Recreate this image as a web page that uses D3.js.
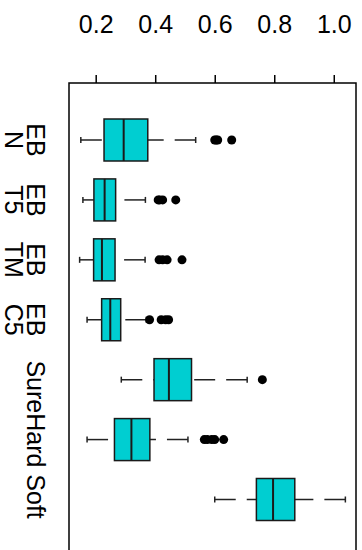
<!DOCTYPE html>
<html>
<head>
<meta charset="utf-8">
<script src="https://cdn.jsdelivr.net/npm/d3@7"></script>
<style>
  html, body { margin: 0; padding: 0; background: #fff; }
  svg { display: block; }
  text { font-family: "Liberation Sans", Arial, sans-serif; fill: #000; }
</style>
</head>
<body>
<svg id="chart" width="362" height="550"></svg>
<script>
// Group labels (only some are printed on the axis; the rest are blank)
const labels = ["EB\nN", "EB\nT5", "EB\nTM", "EB\nC5", "", "SureHard Soft", ""];

// Five-number summaries per group
const whiskerLow  = [0.150, 0.157, 0.146, 0.171, 0.286, 0.171, 0.600];
const lowerQuart  = [0.228, 0.194, 0.193, 0.220, 0.396, 0.263, 0.740];
const medians     = [0.294, 0.230, 0.221, 0.249, 0.446, 0.320, 0.796];
const upperQuart  = [0.375, 0.267, 0.265, 0.284, 0.522, 0.382, 0.869];
const whiskerHigh = [0.536, 0.367, 0.366, 0.370, 0.709, 0.510, 1.039];

// Points beyond the whiskers
const outliers = [
  [0.600, 0.605, 0.610, 0.657],
  [0.410, 0.415, 0.425, 0.469],
  [0.413, 0.425, 0.440, 0.490],
  [0.381, 0.420, 0.435, 0.445],
  [0.760],
  [0.565, 0.575, 0.590, 0.600, 0.630],
  []
];

const tickValues = [0.2, 0.4, 0.6, 0.8, 1.0];

const svg = d3.select("#chart");

// Value range padded by 4% on each side
const allVals = whiskerLow.concat(whiskerHigh, outliers.flat());
const lo = d3.min(allVals), hi = d3.max(allVals);
const pad = (hi - lo) * 0.04;

const frame = { left: 69, right: 356, top: 83, bottom: 600 };

const x = d3.scaleLinear().domain([lo - pad, hi + pad]).range([frame.left, frame.right]);
const y = d3.scaleLinear().domain([0, labels.length - 1]).range([140, 499.5]);

const boxH = 42;
const capH = 6;
const fill = "#00CED1";

// Plot frame
svg.append("rect")
  .attr("x", frame.left).attr("y", frame.top)
  .attr("width", frame.right - frame.left).attr("height", frame.bottom - frame.top)
  .attr("fill", "none").attr("stroke", "#000").attr("stroke-width", 1.5);

// Value axis along the top
const axis = d3.axisTop(x).tickValues(tickValues).tickSize(8).tickFormat(d3.format(".1f"));
const gAxis = svg.append("g").attr("transform", `translate(0,${frame.top})`).call(axis);
gAxis.select(".domain").remove();
gAxis.selectAll(".tick line").attr("stroke", "#000").attr("stroke-width", 1.5);
gAxis.selectAll(".tick text")
  .attr("y", 0).attr("dy", null)
  .attr("transform", `translate(0,${33 - frame.top})`)
  .style("font-size", "25px")
  .style("font-family", "'Liberation Sans', Arial, sans-serif")
  .attr("fill", "#000");

// Group labels, rotated to read downward
labels.forEach((lab, i) => {
  if (!lab) return;
  const lines = lab.split("\n");
  const t = svg.append("text")
    .attr("transform", `translate(27,${y(i)}) rotate(90)`)
    .attr("text-anchor", "middle")
    .style("font-size", "25px");
  lines.forEach((ln, k) => {
    t.append("tspan").attr("x", 0).attr("y", k * 22).text(ln);
  });
});

// Boxes
const groups = svg.append("g").selectAll("g")
  .data(d3.range(labels.length))
  .join("g");

// Whiskers: dashed from the staple toward the box
groups.append("line")
  .attr("x1", i => x(whiskerLow[i])).attr("x2", i => x(lowerQuart[i]))
  .attr("y1", i => y(i)).attr("y2", i => y(i))
  .attr("stroke", "#222").attr("stroke-width", 1.5).attr("stroke-dasharray", "21,11");
groups.append("line")
  .attr("x1", i => x(whiskerHigh[i])).attr("x2", i => x(upperQuart[i]))
  .attr("y1", i => y(i)).attr("y2", i => y(i))
  .attr("stroke", "#222").attr("stroke-width", 1.5).attr("stroke-dasharray", "21,11");

// Staples
[whiskerLow, whiskerHigh].forEach(arr => {
  groups.append("line")
    .attr("x1", i => x(arr[i])).attr("x2", i => x(arr[i]))
    .attr("y1", i => y(i) - capH / 2).attr("y2", i => y(i) + capH / 2)
    .attr("stroke", "#222").attr("stroke-width", 1.5);
});

groups.append("rect")
  .attr("x", i => x(lowerQuart[i]))
  .attr("y", i => y(i) - boxH / 2)
  .attr("width", i => x(upperQuart[i]) - x(lowerQuart[i]))
  .attr("height", boxH)
  .attr("fill", fill).attr("stroke", "#1a1a1a").attr("stroke-width", 1.5);

groups.append("line")
  .attr("x1", i => x(medians[i])).attr("x2", i => x(medians[i]))
  .attr("y1", i => y(i) - boxH / 2).attr("y2", i => y(i) + boxH / 2)
  .attr("stroke", "#1a1a1a").attr("stroke-width", 2);

// Outlying points
groups.selectAll("circle")
  .data(i => outliers[i].map(v => ({ v, i })))
  .join("circle")
  .attr("cx", d => x(d.v)).attr("cy", d => y(d.i))
  .attr("r", 4.5).attr("fill", "#000");
</script>
</body>
</html>
